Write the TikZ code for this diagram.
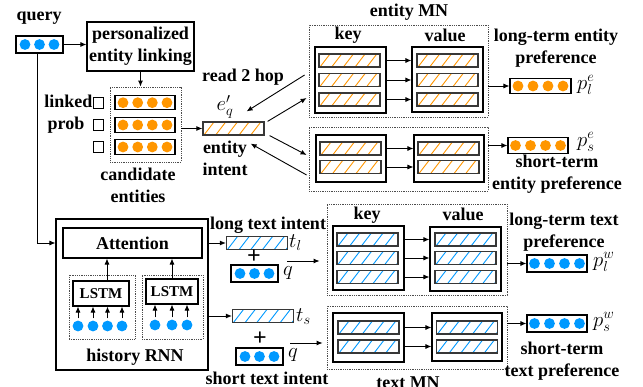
\documentclass[tikz,border=0pt]{standalone}
\usepackage{fontspec}
\setmainfont{Liberation Serif}
\usetikzlibrary{arrows.meta,calc}
\definecolor{qblue}{RGB}{0,153,255}
\definecolor{eorange}{RGB}{255,150,0}
\definecolor{barline}{RGB}{55,55,55}
\tikzset{
  lbl/.style={font=\fontsize{18}{22}\selectfont\bfseries, align=center, inner sep=0pt},
  slbl/.style={font=\fontsize{15}{18}\selectfont\bfseries, inner sep=0pt},
  plbl/.style={font=\fontsize{24}{24}\selectfont\bfseries, inner sep=0pt},
  mlbl/.style={font=\fontsize{22}{22}\selectfont, inner sep=0pt},
  arr/.style={-{Latex[length=6pt,width=5pt]}, line width=0.9pt},
  box/.style={draw, line width=1.1pt, fill=white, inner sep=0pt},
  dbox/.style={draw=black!70, densely dotted, line width=0.8pt, inner sep=0pt},
  chk/.style={draw, line width=0.8pt, inner sep=0pt, minimum size=10.5pt},
  hbar/.style={draw=barline, line width=1.2pt, inner sep=0pt,
    minimum width=61pt, minimum height=13pt,
    path picture={\foreach \k in {0,...,5}{
      \draw[#1, line width=0.9pt]
        ([xshift=\k*11.7pt+1pt]path picture bounding box.south west) -- ++(10pt,13pt);}}},
  dot/.style={circle, fill=#1, inner sep=0pt, minimum size=10.8pt},
}
\begin{document}
\begin{tikzpicture}[x=1pt,y=-1pt]
\useasboundingbox (0,0) rectangle (643,387);

% ---------------- query and entity linking ----------------
\node[lbl] (qlab) at (39,18) {query};
\node[box, minimum width=47pt, minimum height=17pt] (query) at (39.5,44.5) {};
\foreach \i/\dx in {1/-14.5,2/0,3/14.5}
  \node[dot=qblue] (qd\i) at ([xshift=\dx pt]query.center) {};

\node[box, lbl, minimum width=107pt, minimum height=49pt] (pel) at (140.5,46.5)
  {personalized\\entity linking};
\draw[arr] (query.east) -- (pel.west |- query.east);

% candidate entities
\node[dbox, minimum width=71pt, minimum height=75pt] (cand) at (145.5,124.5) {};
\draw[arr] (pel.south) -- (pel.south |- cand.north);
\foreach \i/\y in {1/102.7,2/125,3/147}{
  \node[box, minimum width=60pt, minimum height=14.5pt] (c\i) at (145,\y) {};
  \foreach \j/\dx in {1/-22,2/-7.3,3/7.3,4/22}
    \node[dot=eorange] (c\i d\j) at ([xshift=\dx pt]c\i.center) {};
  \node[chk] (chk\i) at (98.5,\y) {};
}
\node[lbl, anchor=east] (lnk) at (92.5,101) {linked};
\node[lbl, anchor=east] (prb) at (84.5,125) {prob};
\node[lbl] (candlab) at (138,185) {candidate\\entities};

% entity intent
\node[hbar=eorange] (intent) at (233.5,128.5) {};
\draw[arr] (cand.east |- intent.west) -- (intent.west);
\node[mlbl] (eq) at (225,107) {$e'_q$};
\node[lbl] (hop) at (243,77) {read 2 hop};
\node[lbl] (intlab) at (225,158) {entity\\intent};

% ---------------- entity memory network ----------------
\node[dbox, minimum width=179pt, minimum height=92pt] (emnL) at (398.5,71) {};
\node[box, minimum width=71pt, minimum height=66pt] (ekey) at (350.5,80) {};
\node[box, minimum width=71pt, minimum height=65pt] (eval) at (447.5,79.5) {};
\foreach \i/\y in {1/60.5,2/80,3/99.5}{
  \node[hbar=eorange] (ek\i) at (349.5,\y) {};
  \node[hbar=eorange] (ev\i) at (447.5,\y) {};
  \draw[arr] (ek\i.east -| ekey.east) -- (ek\i.east -| eval.west);
}
\node[lbl] (ekeylab) at (348,35) {key};
\node[lbl] (evallab) at (445,35) {value};
\node[lbl] (emnlab) at (409,12) {entity MN};

\node[dbox, minimum width=179pt, minimum height=64pt] (emnS) at (398.5,159) {};
\node[box, minimum width=70pt, minimum height=47pt] (eskey) at (351,158.5) {};
\node[box, minimum width=70pt, minimum height=47pt] (esval) at (449,158.5) {};
\foreach \i/\y in {1/148.5,2/167}{
  \node[hbar=eorange] (esk\i) at (350.5,\y) {};
  \node[hbar=eorange] (esv\i) at (448.5,\y) {};
  \draw[arr] (esk\i.east -| eskey.east) -- (esk\i.east -| esval.west);
}

% reading the entity memories
\draw[arr] ([xshift=-4pt,yshift=-4pt]emnL.west) -- ([xshift=-18pt,yshift=10pt]intent.north east);
\draw[arr] ([xshift=3pt]intent.north east) -- ([xshift=-2pt,yshift=-27pt]emnL.west);
\draw[arr] ([xshift=5pt]intent.south east) -- ([xshift=-2pt,yshift=4pt]emnS.west);
\draw[arr] ([xshift=-2pt,yshift=-16pt]emnS.west) -- ([xshift=-14pt,yshift=-8pt]intent.south east);

% entity preferences
\node[box, minimum width=61pt, minimum height=15pt] (plE) at (540.5,86) {};
\node[box, minimum width=60pt, minimum height=16pt] (psE) at (538,145.5) {};
\foreach \n in {plE,psE}
  \foreach \j/\dx in {1/-22.5,2/-7.5,3/7.5,4/22.5}
    \node[dot=eorange] (\n d\j) at ([xshift=\dx pt]\n.center) {};
\draw[arr] (emnL.east |- plE.west) -- (plE.west);
\draw[arr] (emnS.east |- psE.west) -- (psE.west);
\node[mlbl, anchor=west] (plElab) at (577,85) {$p_l^e$};
\node[mlbl, anchor=west] (psElab) at (577,142) {$p_s^e$};
\node[lbl] (plEtxt) at (556,48) {long-term entity\\preference};
\node[lbl] (psEtxt) at (557,174) {short-term\\entity preference};

% ---------------- history RNN ----------------
\node[box, minimum width=152pt, minimum height=151pt] (rnn) at (132,294.5) {};
\node[box, lbl, minimum width=139pt, minimum height=30pt] (att) at (132.5,243) {Attention};
\draw[arr] ([xshift=-2.5pt]query.south) |- (att.west -| rnn.west);

\node[dbox, minimum width=66pt, minimum height=64pt] (seq1) at (102,307) {};
\node[dbox, minimum width=61pt, minimum height=64pt] (seq2) at (172.5,307) {};
\node[box, slbl, minimum width=56pt, minimum height=25pt] (lstm1) at (101,293.5) {LSTM};
\node[box, slbl, minimum width=52pt, minimum height=25pt] (lstm2) at (172,291.5) {LSTM};
\foreach \i/\x in {1/78,2/93,3/107.5,4/122}{
  \node[dot=qblue] (ha\i) at (\x,326) {};
  \draw[arr] ([yshift=2pt]ha\i.north) -- (ha\i.north |- lstm1.south);
}
\foreach \i/\x in {1/155,2/172,3/187}{
  \node[dot=qblue] (hb\i) at (\x,325) {};
  \draw[arr] ([yshift=2pt]hb\i.north) -- (hb\i.north |- lstm2.south);
}
\draw[arr] ([xshift=6pt]lstm1.north) -- ([xshift=6pt]lstm1.north |- att.south);
\draw[arr] (lstm2.north) -- (lstm2.north |- att.south);
\node[lbl] (rnnlab) at (135,357) {history RNN};

% ---------------- text intents ----------------
\node[hbar=qblue] (tl) at (257,243) {};
\draw[arr] (tl.west -| rnn.east) -- (tl.west);
\node[mlbl, anchor=west] (tllab) at (289,243) {$t_l$};
\node[plbl] (tlplus) at (254,257) {+};
\node[box, minimum width=47pt, minimum height=17pt] (qL) at (254.5,273.5) {};
\node[mlbl, anchor=west] (qLlab) at (283,273) {$q$};
\node[lbl] (tltxt) at (268,225) {long text intent};

\node[hbar=qblue] (ts) at (263,316) {};
\draw[arr] (ts.west -| rnn.east) -- (ts.west);
\node[mlbl, anchor=west] (tslab) at (296,317) {$t_s$};
\node[plbl] (tsplus) at (260,339) {+};
\node[box, minimum width=47pt, minimum height=17pt] (qS) at (259.5,356.5) {};
\node[mlbl, anchor=west] (qSlab) at (288,355) {$q$};
\node[lbl] (tstxt) at (267,378) {short text intent};

\foreach \n in {qL,qS}
  \foreach \j/\dx in {1/-14.5,2/0,3/14.5}
    \node[dot=qblue] (\n d\j) at ([xshift=\dx pt]\n.center) {};

% ---------------- text memory network ----------------
\node[dbox, minimum width=180pt, minimum height=91pt] (tmnL) at (417,249.5) {};
\node[box, minimum width=71pt, minimum height=64pt] (tkey) at (368.5,258) {};
\node[box, minimum width=71pt, minimum height=64pt] (tval) at (465.5,259) {};
\foreach \i/\y in {1/239.5,2/258,3/277}{
  \node[hbar=qblue] (tk\i) at (367.5,\y) {};
  \node[hbar=qblue] (tv\i) at (465.5,\y) {};
  \draw[arr] (tk\i.east -| tkey.east) -- (tk\i.east -| tval.west);
}
\node[lbl] (tkeylab) at (367,215) {key};
\node[lbl] (tvallab) at (463,214) {value};

\node[dbox, minimum width=180pt, minimum height=63pt] (tmnS) at (417,337.5) {};
\node[box, minimum width=71pt, minimum height=49pt] (tskey) at (368.5,337.5) {};
\node[box, minimum width=70pt, minimum height=48pt] (tsval) at (467,337) {};
\foreach \i/\y in {1/327.5,2/346.5}{
  \node[hbar=qblue] (tsk\i) at (368.5,\y) {};
  \node[hbar=qblue] (tsv\i) at (467,\y) {};
  \draw[arr] (tsk\i.east -| tskey.east) -- (tsk\i.east -| tsval.west);
}
\node[lbl] (tmnlab) at (408,383) {text MN};

% intents into the text memories
\coordinate (tlout) at (287,261);
\coordinate (tsout) at (290,343);
\draw[arr] (tlout) -- ([xshift=-7pt]tlout -| tmnL.west);
\draw[arr] (tsout) -- ([xshift=-4pt]tsout -| tmnS.west);

% text preferences
\node[box, minimum width=60pt, minimum height=17pt] (plW) at (557,263.5) {};
\node[box, minimum width=60pt, minimum height=17pt] (psW) at (557,323.5) {};
\foreach \n in {plW,psW}
  \foreach \j/\dx in {1/-22.5,2/-7.5,3/7.5,4/22.5}
    \node[dot=qblue] (\n d\j) at ([xshift=\dx pt]\n.center) {};
\draw[arr] (tmnL.east |- plW.west) -- (plW.west);
\draw[arr] (tmnS.east |- psW.west) -- (psW.west);
\node[mlbl, anchor=west] (plWlab) at (593,262) {$p_l^w$};
\node[mlbl, anchor=west] (psWlab) at (593,322) {$p_s^w$};
\node[lbl] (plWtxt) at (564,232) {long-term text\\preference};
\node[lbl] (psWtxt) at (562,361) {short-term\\text preference};
\end{tikzpicture}
\end{document}
